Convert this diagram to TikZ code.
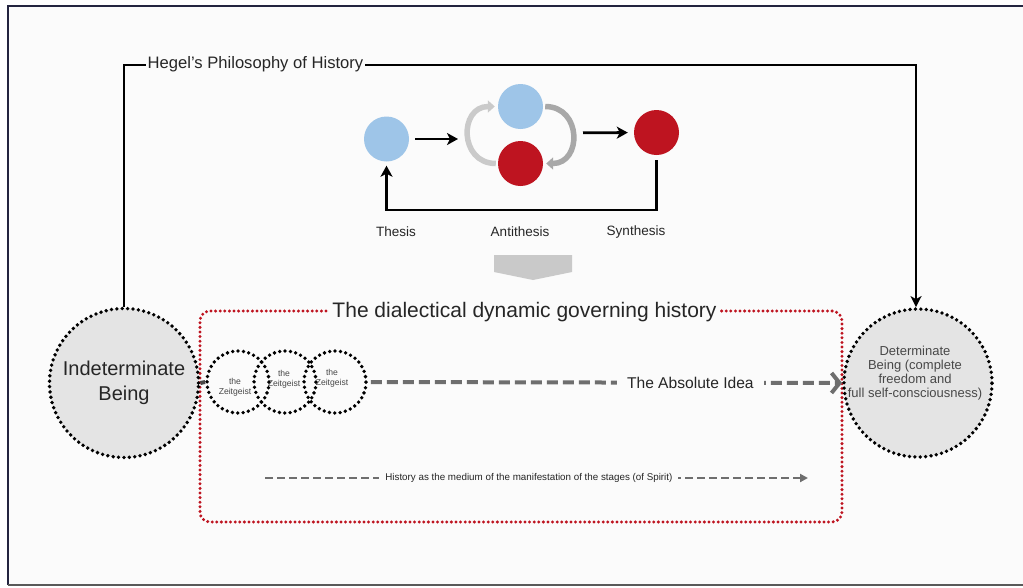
\documentclass[tikz,border=0pt]{standalone}
\usepackage{fontspec}
\setmainfont{Liberation Sans}
\usetikzlibrary{arrows.meta}
\definecolor{bg}{HTML}{FBFBFB}
\definecolor{navy}{HTML}{23243F}
\definecolor{lblue}{HTML}{9EC5E8}
\definecolor{dred}{HTML}{BE1420}
\definecolor{lgray}{HTML}{E4E4E4}
\definecolor{txt}{HTML}{262626}
\definecolor{txtgray}{HTML}{484848}
\definecolor{arclight}{HTML}{CACACA}
\definecolor{arcdark}{HTML}{A8A8A8}
\definecolor{dashgray}{HTML}{6E6E6E}
\definecolor{blockgray}{HTML}{C9C9C9}
\begin{document}
\begin{tikzpicture}[x=1pt,y=-1pt,
  blackdots/.style={draw=black, line width=3.8pt, dash pattern=on 0pt off 5.4pt, line cap=round},
  reddots/.style={draw=dred, line width=3.3pt, dash pattern=on 0pt off 4.6pt, line cap=round},
  ball/.style={circle, inner sep=0pt, minimum size=45pt},
  lab/.style={font=\fontsize{13.5}{16}\selectfont, text=txt},
  blackarrow/.style={draw=black, line width=2.8pt, -{Stealth[length=11pt,width=12pt,inset=3pt]}},
  arcstyle/.style={line width=5.5pt, -{Triangle[length=7pt,width=12pt]}},
  ztext/.style={font=\fontsize{8.6}{10}\selectfont, text=txtgray, align=center, inner sep=0pt},
  hegelline/.style={draw=black, line width=2.8pt, -{Stealth[length=11pt,width=11pt,inset=3pt]}},
  absline/.style={draw=dashgray, line width=4pt, dash pattern=on 11pt off 5pt, -{Straight Barb[length=8pt,width=20pt]}},
  histline/.style={draw=dashgray, line width=2.6pt, dash pattern=on 8pt off 4pt, -{Triangle[length=8pt,width=8pt]}}
]
\useasboundingbox (0,0) rectangle (1023,587);
\fill[white] (0,0) rectangle (1023,587);
\fill[bg] (8,5.5) rectangle (1023,585);
\draw[navy, line width=2pt] (8,585) -- (8,5.5) -- (1023,5.5);
\draw[gray!70!black, line width=2pt] (8,585) -- (1023,585);

% dialectic triad
\node[ball, fill=lblue] (thesis) at (386.5,139) {};
\node[ball, fill=lblue] (antiT) at (520.5,106.5) {};
\node[ball, fill=dred] (antiB) at (520.5,163.5) {};
\node[ball, fill=dred] (synth) at (656.5,132.5) {};
\node[lab] (lthesis) at (396,232) {Thesis};
\node[lab] (lanti) at (520,232) {Antithesis};
\node[lab] (lsynth) at (636,232) {Synthesis};
\coordinate (antiA) at (520.5,139);
\coordinate (antiS) at (520.5,133);
\coordinate (fb) at (386.5,210);
\draw[blackarrow, shorten <=6pt, shorten >=62.5pt] (thesis) -- (antiA);
\draw[blackarrow, shorten <=62.5pt, shorten >=6pt] (antiS) -- (synth);
\draw[blackarrow, shorten <=5pt, shorten >=4pt] (synth.south) |- (fb) -- (thesis.south);
\draw[arcstyle, draw=arclight, shorten <=2pt, shorten >=3pt] (antiB.west) to[out=180,in=180,looseness=1.75] (antiT.west);
\draw[arcstyle, draw=arcdark, shorten <=2pt, shorten >=3pt] (antiT.east) to[out=0,in=0,looseness=1.75] (antiB.east);
\fill[blockgray] (494,255) -- (572,255) -- (572,272) -- (533,280) -- (494,272) -- cycle;

% frame of the dialectical dynamic
\node[reddots, rounded corners=10pt, minimum width=642pt, minimum height=211pt, inner sep=0pt] (dial) at (521,416.5) {};
\node[fill=bg, font=\fontsize{21}{25}\selectfont, text=txt, inner xsep=3pt, inner ysep=1pt] (title) at (524.5,312) {The dialectical dynamic governing history};

% big beings
\node[circle, blackdots, fill=lgray, minimum size=149pt, inner sep=0pt, align=center, font=\fontsize{20}{25}\selectfont, text=txt] (ind) at (124,383) {Indeterminate\\Being};
\node[circle, blackdots, fill=lgray, minimum size=148pt, inner sep=0pt] (det) at (918,383) {};
\node[font=\fontsize{13}{14}\selectfont, text=txtgray, align=center, inner sep=0pt] (dettext) at (915,373) {Determinate\\Being (complete\\freedom and\\full self-consciousness)};

% Zeitgeist circles
\node[circle, blackdots, minimum size=62pt, inner sep=0pt] (z1) at (238,382) {};
\node[circle, blackdots, minimum size=62pt, inner sep=0pt] (z2) at (285,382) {};
\node[circle, blackdots, minimum size=62pt, inner sep=0pt] (z3) at (335,382) {};
\node[ztext] (zt1) at (235,387) {the\\Zeitgeist};
\node[ztext] (zt2) at (284,379) {the\\Zeitgeist};
\node[ztext] (zt3) at (332,378) {the\\Zeitgeist};
\draw[draw=txtgray, line width=4pt] (ind.east) -- (z1.west);

% absolute idea
\draw[absline, shorten <=3pt] (z3.east) -- node[pos=0.68, fill=bg, font=\fontsize{15.6}{18}\selectfont, text=txt, inner xsep=10pt] (absl) {The Absolute Idea} (det.west);

% history line
\coordinate (hs) at (265,478);
\coordinate (he) at (808,478);
\draw[histline] (hs) -- node[pos=0.486, fill=bg, font=\fontsize{9.8}{11}\selectfont, text=txt, inner xsep=6pt] (hist) {History as the medium of the manifestation of the stages (of Spirit)} (he);

% Hegel's philosophy of history
\coordinate (hr) at (916,65);
\draw[hegelline] (ind.north) |- (hr) -- (det.north -| hr);
\node[fill=bg, font=\fontsize{16.6}{19}\selectfont, text=txt, inner xsep=2pt, inner ysep=1pt] (hegel) at (255.5,64) {Hegel’s Philosophy of History};
\end{tikzpicture}
\end{document}
